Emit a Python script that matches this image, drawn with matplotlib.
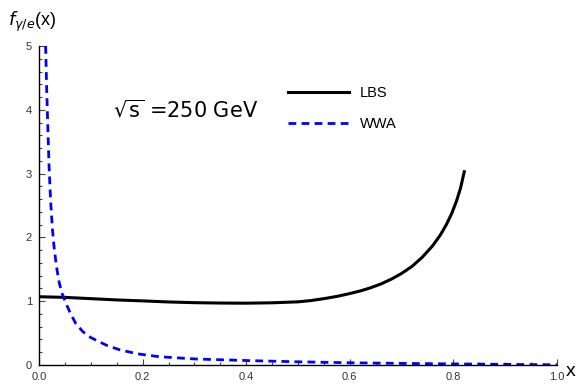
import matplotlib
matplotlib.use("Agg")
import matplotlib.pyplot as plt
from matplotlib.ticker import MultipleLocator

# LBS photon spectrum
x_lbs = [0.0, 0.05, 0.1, 0.15, 0.2, 0.25, 0.3, 0.35, 0.4, 0.45, 0.5, 0.525,
         0.55, 0.575, 0.6, 0.62, 0.64, 0.66, 0.68, 0.7, 0.72, 0.74, 0.76,
         0.775, 0.787, 0.797, 0.806, 0.814, 0.821]
f_lbs = [1.07, 1.06, 1.04, 1.02, 1.005, 0.988, 0.977, 0.971, 0.969, 0.975,
         0.99, 1.01, 1.04, 1.075, 1.12, 1.16, 1.21, 1.27, 1.345, 1.435, 1.545,
         1.69, 1.87, 2.04, 2.21, 2.38, 2.57, 2.78, 3.03]

# WWA photon spectrum
x_wwa = [0.0128, 0.0148, 0.0168, 0.0195, 0.0225, 0.026, 0.0296, 0.034,
         0.039, 0.045, 0.052, 0.06, 0.071, 0.085, 0.1, 0.11, 0.13, 0.155,
         0.19, 0.232, 0.3, 0.4, 0.5, 0.6, 0.7, 0.8, 0.9, 1.0]
f_wwa = [5.0, 4.33, 3.79, 3.1, 2.56, 2.12, 1.81, 1.53, 1.29, 1.11, 0.97,
         0.82, 0.65, 0.52, 0.43, 0.39, 0.31, 0.24, 0.175, 0.13, 0.095, 0.07,
         0.05, 0.035, 0.025, 0.017, 0.01, 0.003]

energy_text = r'$\sqrt{\mathrm{s}}$ =250 GeV'

fig = plt.figure(figsize=(5.8, 3.85), dpi=100)
ax = fig.add_axes([39/580, 1-365/385, (557-39)/580, (365-46)/385])

ax.plot(x_lbs, f_lbs, color='black', lw=2.2, label='LBS')
ax.plot(x_wwa, f_wwa, color=(0, 0, 1), lw=2.0, ls=(0, (2.8, 1.9)), label='WWA')

ax.set_xlim(0, 1)
ax.set_ylim(0, 5)
ax.spines['top'].set_visible(False)
ax.spines['right'].set_visible(False)
for s in ('left', 'bottom'):
    ax.spines[s].set_linewidth(1.0)

ax.xaxis.set_major_locator(MultipleLocator(0.2))
ax.xaxis.set_minor_locator(MultipleLocator(0.05))
ax.yaxis.set_major_locator(MultipleLocator(1))
ax.yaxis.set_minor_locator(MultipleLocator(0.2))
ax.tick_params(which='both', direction='in', color='#444444', width=0.8,
               labelsize=8, labelcolor='#333333')
ax.tick_params(which='major', length=4)
ax.tick_params(which='minor', length=2.5)
ax.tick_params(axis='x', pad=5)
ax.tick_params(axis='y', pad=5)
ax.set_xticklabels([f'{v:.1f}' for v in ax.get_xticks()], family='Liberation Sans')
ax.set_yticklabels([f'{int(v)}' for v in ax.get_yticks()], family='Liberation Sans')

fig.text(8/580, 1-22/385, r'$f_{\gamma/e}$(x)', fontsize=13, va='center',
         ha='left', family='Liberation Sans')
fig.text(566/580, 1-372/385, 'x', fontsize=14, va='center', ha='left',
         family='Liberation Sans')
fig.text(113/580, 1-110/385, energy_text, fontsize=15, va='center', ha='left')

ax.legend(loc='upper left', bbox_to_anchor=(288/580, 1-86/385),
          bbox_transform=fig.transFigure, frameon=False,
          handlelength=4.2, handletextpad=0.7, labelspacing=1.2,
          borderpad=0, borderaxespad=0,
          prop={'family': 'Liberation Sans', 'size': 10.5})

fig.savefig('out.png', dpi=100)
